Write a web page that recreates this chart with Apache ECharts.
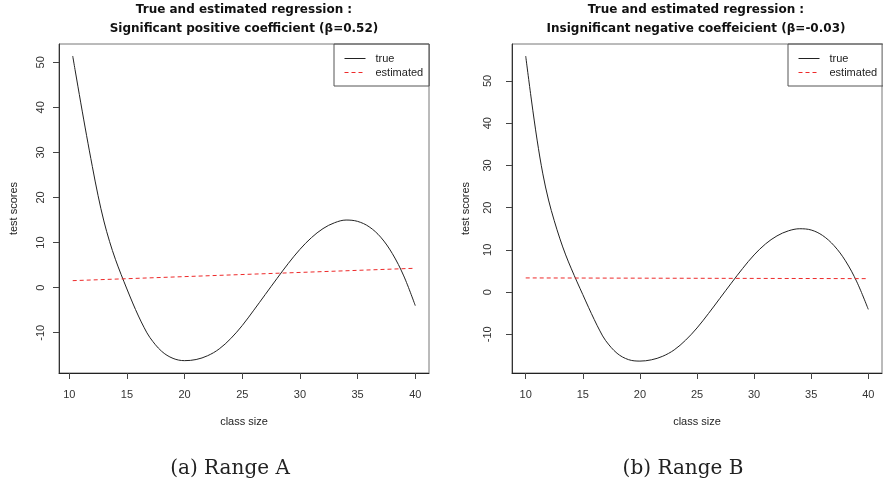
<!DOCTYPE html>
<html>
<head>
<meta charset="utf-8">
<script src="https://cdn.jsdelivr.net/npm/echarts@6/dist/echarts.min.js"></script>
<style>
  html, body { margin: 0; padding: 0; background: #fff; }
  #chart { width: 883px; height: 491px; }
</style>
</head>
<body>
<div id="chart"></div>
<script>
// Class size (x) vs test scores (y): true curve and fitted line, two ranges
var xTicks = [10, 15, 20, 25, 30, 35, 40];
var yTicks = [-10, 0, 10, 20, 30, 40, 50];

// Range A
var xA    = [10.3, 10.5, 11, 11.5, 12, 12.5, 13, 13.5, 14, 14.5, 15, 15.5, 16, 16.5, 17, 18, 19, 20, 21, 22, 23, 24, 25, 26, 27, 28, 29, 30, 31, 32, 33, 34, 35, 36, 37, 38, 39, 40];
var trueA = [51.4, 48.4, 41.0, 33.8, 26.9, 20.4, 14.8, 10.2, 6.3, 2.9, -0.3, -3.4, -6.3, -8.9, -11.1, -14.1, -15.7, -16.2, -15.95, -15.1, -13.6, -11.3, -8.4, -5.0, -1.5, 2.0, 5.4, 8.5, 11.1, 13.1, 14.4, 15.0, 14.7, 13.5, 11.2, 7.6, 2.6, -4.0];
var estXA = [10.3, 40];
var estA  = [1.55, 4.3];

// Range B
var xB    = [10, 10.5, 11, 11.5, 12, 12.5, 13, 13.5, 14, 14.5, 15, 15.5, 16, 16.5, 17, 18, 19, 20, 21, 22, 23, 24, 25, 26, 27, 28, 29, 30, 31, 32, 33, 34, 35, 36, 37, 38, 39, 40];
var trueB = [55.9, 45.5, 36.0, 28.0, 21.8, 16.9, 12.6, 8.8, 5.5, 2.4, -0.6, -3.6, -6.5, -9.2, -11.5, -14.5, -16.0, -16.35, -16.05, -15.2, -13.7, -11.4, -8.5, -5.1, -1.5, 2.1, 5.6, 8.8, 11.4, 13.3, 14.5, 15.0, 14.7, 13.4, 11.0, 7.4, 2.4, -4.1];
var estXB = [10, 40];
var estB  = [3.35, 3.18];

var titleA = 'True and estimated regression :\nSignificant positive coefficient (\u03b2=0.52)';
var titleB = 'True and estimated regression :\nInsignificant negative coeffeicient (\u03b2=-0.03)';
var captionA = '(a) Range A';
var captionB = '(b) Range B';
var xName = 'class size';
var yName = 'test scores';
var legendNames = ['true', 'estimated'];

var SANS = '"Liberation Sans", Arial, Helvetica, sans-serif';
var TITLE_FONT = '"DejaVu Sans", "Liberation Sans", sans-serif';

function pairs(xs, ys) {
  return xs.map(function (x, i) { return [x, ys[i]]; });
}

function xAxisDef(gridIndex, min, max) {
  return {
    type: 'value', gridIndex: gridIndex, min: min, max: max,
    name: xName, nameLocation: 'middle', nameGap: 43,
    nameTextStyle: { fontFamily: SANS, fontSize: 11, color: '#222' },
    splitLine: { show: false },
    axisLine: { show: true, onZero: false, lineStyle: { color: '#222', width: 1 } },
    axisTick: { show: true, inside: false, length: 6, customValues: xTicks, lineStyle: { color: '#444' } },
    axisLabel: { customValues: xTicks, margin: 16, fontFamily: SANS, fontSize: 11, color: '#333' }
  };
}

function yAxisDef(gridIndex, min, max, labelMargin, nameGap) {
  return {
    type: 'value', gridIndex: gridIndex, min: min, max: max,
    name: yName, nameLocation: 'middle', nameGap: nameGap, nameRotate: 90,
    nameTextStyle: { fontFamily: SANS, fontSize: 11, color: '#222' },
    splitLine: { show: false },
    axisLine: { show: true, onZero: false, lineStyle: { color: '#333', width: 1 } },
    axisTick: { show: true, inside: false, length: 6, customValues: yTicks, lineStyle: { color: '#444' } },
    axisLabel: { customValues: yTicks, rotate: 90, margin: labelMargin, fontFamily: SANS, fontSize: 11, color: '#333' }
  };
}

function legendDef(left) {
  return {
    data: legendNames, orient: 'vertical', align: 'left',
    left: left, top: 44,
    padding: [9, 6, 8, 10], itemGap: 3, itemWidth: 21, itemHeight: 11,
    borderColor: '#555', borderWidth: 1, borderRadius: 0,
    selectedMode: false,
    itemStyle: { opacity: 0 },
    lineStyle: { width: 1 },
    textStyle: { fontFamily: SANS, fontSize: 11, color: '#222', padding: [0, 0, 0, 5] }
  };
}

function trueSeries(idx, xs, ys) {
  return {
    name: 'true', type: 'line', xAxisIndex: idx, yAxisIndex: idx,
    data: pairs(xs, ys), symbol: 'none', smooth: 0.35,
    lineStyle: { color: '#222', width: 1 }, itemStyle: { color: '#222' }
  };
}

function estSeries(idx, xs, ys) {
  return {
    name: 'estimated', type: 'line', xAxisIndex: idx, yAxisIndex: idx,
    data: pairs(xs, ys), symbol: 'none',
    lineStyle: { color: '#ee2a2a', width: 1, type: [4, 3] }, itemStyle: { color: '#ee2a2a' }
  };
}

var chart = echarts.init(document.getElementById('chart'), null, { renderer: 'canvas' });
chart.setOption({
  animation: false,
  backgroundColor: '#ffffff',
  title: [
    { text: titleA, left: 244, top: 0, padding: 0, textAlign: 'center',
      textStyle: { fontFamily: TITLE_FONT, fontSize: 12, fontWeight: 'bold', color: '#111', lineHeight: 19 } },
    { text: titleB, left: 696, top: 0, padding: 0, textAlign: 'center',
      textStyle: { fontFamily: TITLE_FONT, fontSize: 12, fontWeight: 'bold', color: '#111', lineHeight: 19 } },
    { text: captionA, left: 230, top: 459, padding: 0, textAlign: 'center',
      textStyle: { fontFamily: '"DejaVu Serif", serif', fontSize: 20, fontWeight: 'normal', color: '#222' } },
    { text: captionB, left: 683, top: 459, padding: 0, textAlign: 'center',
      textStyle: { fontFamily: '"DejaVu Serif", serif', fontSize: 20, fontWeight: 'normal', color: '#222' } }
  ],
  legend: [legendDef(334), legendDef(788)],
  grid: [
    { left: 59, top: 44, width: 370, height: 329, show: true, borderColor: '#777', borderWidth: 1, backgroundColor: 'transparent' },
    { left: 512, top: 44, width: 370, height: 329, show: true, borderColor: '#777', borderWidth: 1, backgroundColor: 'transparent' }
  ],
  xAxis: [xAxisDef(0, 9.112, 41.188), xAxisDef(1, 8.8, 41.2)],
  yAxis: [yAxisDef(0, -18.94, 54.06, 13, 40), yAxisDef(1, -19.17, 58.76, 19, 41)],
  series: [
    trueSeries(0, xA, trueA), estSeries(0, estXA, estA),
    trueSeries(1, xB, trueB), estSeries(1, estXB, estB)
  ]
});
</script>
</body>
</html>
